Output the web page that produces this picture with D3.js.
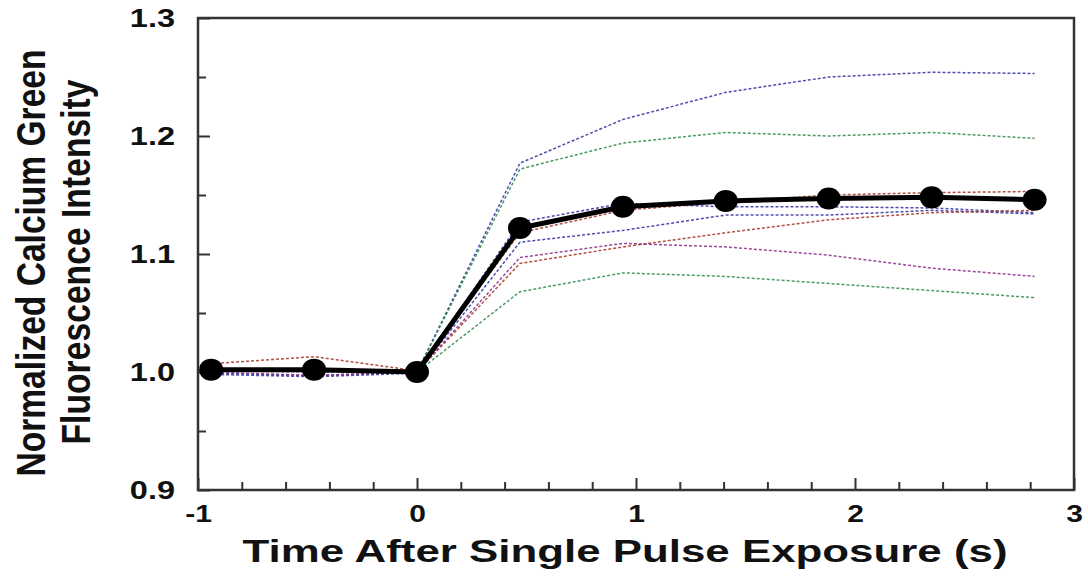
<!DOCTYPE html>
<html>
<head>
<meta charset="utf-8">
<script src="https://cdn.jsdelivr.net/npm/d3@7"></script>
<style>
  body { margin: 0; background: #fff; overflow: hidden; }
  svg { display: block; }
  text { font-family: "Liberation Sans", Arial, sans-serif; font-weight: bold; fill: #111; }
</style>
</head>
<body>
<svg id="chart"></svg>
<script>
// time points (s) after the pulse
const times = [-0.94, -0.47, 0, 0.47, 0.94, 1.41, 1.88, 2.35, 2.82];

// mean trace (thick black with markers)
const meanValues = [1.002, 1.002, 1.000, 1.122, 1.140, 1.145, 1.147, 1.148, 1.146];

// individual cell traces (dotted)
const blueTop   = [0.999, 0.997, 1.000, 1.177, 1.214, 1.237, 1.250, 1.254, 1.253];
const greenTop  = [1.002, 1.001, 1.000, 1.172, 1.194, 1.203, 1.200, 1.203, 1.198];
const redUpper  = [1.007, 1.013, 1.001, 1.118, 1.137, 1.144, 1.150, 1.152, 1.153];
const blueUpper = [1.001, 1.000, 1.000, 1.127, 1.143, 1.140, 1.140, 1.139, 1.135];
const blueLower = [0.998, 0.996, 0.999, 1.110, 1.120, 1.133, 1.133, 1.137, 1.134];
const redLower  = [1.003, 1.002, 1.000, 1.092, 1.106, 1.118, 1.129, 1.135, 1.137];
const purple    = [1.000, 0.997, 1.000, 1.097, 1.109, 1.106, 1.099, 1.088, 1.081];
const greenLow  = [1.002, 1.001, 1.000, 1.068, 1.084, 1.081, 1.075, 1.069, 1.063];

const traces = [
  { values: blueTop, color: "#2f2f9e" },
  { values: greenTop, color: "#2a8a4a" },
  { values: redUpper, color: "#a3341e" },
  { values: blueUpper, color: "#2f2f9e" },
  { values: blueLower, color: "#2f2f9e" },
  { values: redLower, color: "#a3341e" },
  { values: purple, color: "#8a2a8a" },
  { values: greenLow, color: "#2a8a4a" }
];

const xTicks = [-1, 0, 1, 2, 3];
const yTicks = [0.9, 1.0, 1.1, 1.2, 1.3];

const width = 1088;
const height = 576;
const margin = { top: 18, right: 14, bottom: 86, left: 198 };

const svg = d3.select("#chart").attr("width", width).attr("height", height);

const innerWidth = width - margin.left - margin.right;
const innerHeight = height - margin.top - margin.bottom;

const chartArea = svg.append("g").attr("transform", `translate(${margin.left},${margin.top})`);

const xScale = d3.scaleLinear().domain([-1, 3]).range([0, innerWidth]);
const yScale = d3.scaleLinear().domain([0.9, 1.3]).range([innerHeight, 0]);

// stretch text horizontally like the source image
const stretch = (sel, k) => sel.each(function () {
  const len = this.getComputedTextLength();
  d3.select(this).attr("textLength", len * k).attr("lengthAdjust", "spacingAndGlyphs");
});

// minor ticks
chartArea.append("g").attr("transform", `translate(0,${innerHeight})`)
  .call(d3.axisBottom(xScale).tickValues(d3.range(-0.8, 3, 0.2).filter((d) => Math.abs(d - Math.round(d)) > 0.01)).tickSize(-8).tickFormat(""))
  .call((g) => g.select(".domain").remove());
chartArea.append("g")
  .call(d3.axisLeft(yScale).tickValues([0.95, 1.05, 1.15, 1.25]).tickSize(-8).tickFormat(""))
  .call((g) => g.select(".domain").remove());

// major ticks + labels
const xAxis = chartArea.append("g").attr("transform", `translate(0,${innerHeight})`)
  .call(d3.axisBottom(xScale).tickValues(xTicks).tickSize(-12).tickPadding(15).tickFormat((d) => String(d)));
xAxis.select(".domain").remove();
xAxis.selectAll("text").style("font-size", "24px").attr("fill", "#111").call(stretch, 1.25);

const yAxis = chartArea.append("g")
  .call(d3.axisLeft(yScale).tickValues(yTicks).tickSize(-12).tickPadding(23).tickFormat(d3.format(".1f")));
yAxis.select(".domain").remove();
yAxis.selectAll("text").style("font-size", "25px").attr("fill", "#111").call(stretch, 1.3);

chartArea.selectAll(".tick line").attr("stroke", "#333").attr("stroke-width", 2);

// frame
chartArea.append("rect")
  .attr("width", innerWidth)
  .attr("height", innerHeight)
  .attr("fill", "none")
  .attr("stroke", "#333")
  .attr("stroke-width", 2.5);

const line = d3.line().x((d, i) => xScale(times[i])).y((d) => yScale(d));

// dotted individual traces
chartArea.selectAll(".trace")
  .data(traces)
  .enter()
  .append("path")
  .attr("class", "trace")
  .attr("d", (d) => line(d.values))
  .attr("fill", "none")
  .attr("stroke", (d) => d.color)
  .attr("stroke-width", 1.5)
  .attr("stroke-dasharray", "3,2")
  .attr("opacity", 0.85);

// mean trace
chartArea.append("path")
  .attr("d", line(meanValues))
  .attr("fill", "none")
  .attr("stroke", "#000")
  .attr("stroke-width", 5);

chartArea.selectAll(".dot")
  .data(meanValues)
  .enter()
  .append("ellipse")
  .attr("class", "dot")
  .attr("cx", (d, i) => xScale(times[i]))
  .attr("cy", (d) => yScale(d))
  .attr("rx", 12)
  .attr("ry", 11)
  .attr("fill", "#000");

// X axis title
svg.append("text")
  .attr("x", 625)
  .attr("y", 562)
  .attr("text-anchor", "middle")
  .style("font-size", "31px")
  .attr("textLength", 765)
  .attr("lengthAdjust", "spacingAndGlyphs")
  .text("Time After Single Pulse Exposure (s)");

// Y axis title (two lines)
svg.append("text")
  .attr("transform", "translate(45,263) rotate(-90)")
  .attr("text-anchor", "middle")
  .style("font-size", "41px")
  .attr("textLength", 427)
  .attr("lengthAdjust", "spacingAndGlyphs")
  .text("Normalized Calcium Green");

svg.append("text")
  .attr("transform", "translate(90,262) rotate(-90)")
  .attr("text-anchor", "middle")
  .style("font-size", "41px")
  .attr("textLength", 365)
  .attr("lengthAdjust", "spacingAndGlyphs")
  .text("Fluorescence Intensity");
</script>
</body>
</html>
